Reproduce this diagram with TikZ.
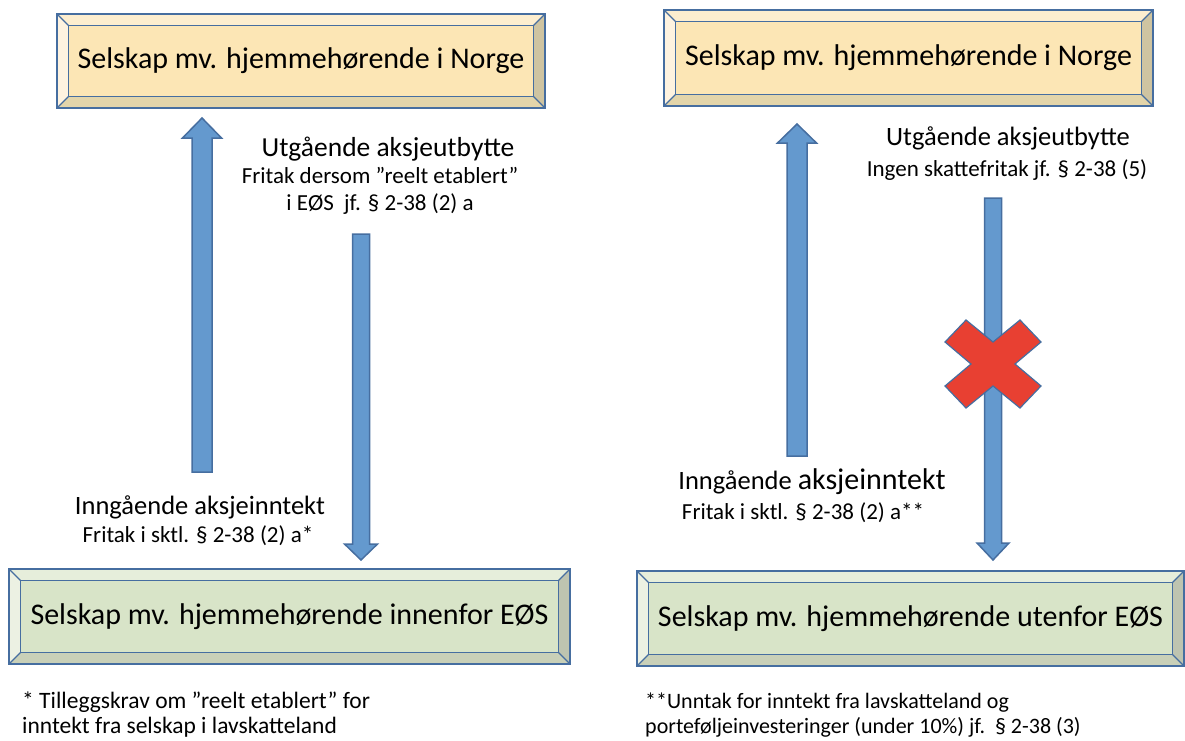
\documentclass[tikz,border=0pt]{standalone}
\usepackage{fontspec}
\setmainfont{Carlito}
\usetikzlibrary{
  calc,
  positioning,
}

\definecolor{boxline}{RGB}{70,110,160}
\definecolor{tanface}{RGB}{252,230,181}
\definecolor{tantop}{RGB}{253,238,207}
\definecolor{tanleft}{RGB}{254,243,224}
\definecolor{tanright}{RGB}{207,196,161}
\definecolor{tanbottom}{RGB}{227,213,170}
\definecolor{greenface}{RGB}{216,228,200}
\definecolor{greentop}{RGB}{230,238,219}
\definecolor{greenleft}{RGB}{236,241,227}
\definecolor{greenright}{RGB}{190,196,176}
\definecolor{greenbottom}{RGB}{201,208,184}
\definecolor{arrowfill}{RGB}{100,153,206}
\definecolor{crossred}{RGB}{232,64,50}

\tikzset{
  boxtext/.style={inner sep=0pt, font=\fontsize{30}{35}\selectfont},
  tanbox/.style={boxtext, fill=tanface},
  greenbox/.style={boxtext, fill=greenface},
  headlabel/.style={anchor=base, inner sep=0pt, font=\fontsize{26.5}{30}\selectfont},
  sublabel/.style={anchor=base, inner sep=0pt, font=\fontsize{23}{26}\selectfont},
  footnote/.style={anchor=base west, inner sep=0pt, font=\fontsize{23.5}{27}\selectfont},
  blockarrow/.style={fill=arrowfill, draw=boxline, line width=1.5pt, line join=miter},
  crossmark/.style={fill=crossred, draw=boxline, line width=1.2pt, line join=miter},
}

% bevelled frame around a box node: node, top, left, right, bottom
\newcommand{\bevelbox}[5]{%
  \fill[#2] (#1.north west) -- (#1.north east) -- ($(#1.north east)+(-12,12)$) -- ($(#1.north west)+(12,12)$) -- cycle;
  \fill[#3] (#1.north west) -- ($(#1.north west)+(12,12)$) -- ($(#1.south west)+(12,-12)$) -- (#1.south west) -- cycle;
  \fill[#4] (#1.north east) -- ($(#1.north east)+(-12,12)$) -- ($(#1.south east)+(-12,-12)$) -- (#1.south east) -- cycle;
  \fill[#5] (#1.south west) -- ($(#1.south west)+(12,-12)$) -- ($(#1.south east)+(-12,-12)$) -- (#1.south east) -- cycle;
  \draw[boxline, line width=1.8pt] (#1.north west) rectangle (#1.south east);
  \draw[boxline, line width=1.2pt] ($(#1.north west)+(12,12)$) rectangle ($(#1.south east)+(-12,-12)$);
  \draw[boxline, line width=1.2pt] (#1.north west) -- ++(12,12) (#1.north east) -- ++(-12,12)
    (#1.south west) -- ++(12,-12) (#1.south east) -- ++(-12,-12);
}

% block arrow: from, to, half shaft, half head, head length
\newcommand{\blockarrow}[5]{%
  \coordinate (hb) at ($(#2)!#5!(#1)$);
  \filldraw[blockarrow] ($(#1)!#3!90:(#2)$) -- ($(hb)!#3!90:(#2)$) -- ($(hb)!#4!90:(#2)$) -- (#2)
    -- ($(hb)!#4!-90:(#2)$) -- ($(hb)!#3!-90:(#2)$) -- ($(#1)!#3!-90:(#2)$) -- cycle;
}

\begin{document}
\begin{tikzpicture}[x=1pt, y=-1pt]
  \useasboundingbox (0,0) rectangle (1185,740);

  % boxes
  \node[tanbox, minimum width=488pt, minimum height=94pt] (norgeA) at (301,61) {Selskap mv. hjemmehørende i Norge};
  \node[tanbox, minimum width=489pt, minimum height=96pt] (norgeB) at (908.5,58) {Selskap mv. hjemmehørende i Norge};
  \node[greenbox, minimum width=561pt, minimum height=95pt] (eosIn) at (289.5,616.5) {Selskap mv. hjemmehørende innenfor EØS};
  \node[greenbox, minimum width=547pt, minimum height=95pt] (eosOut) at (910.5,618.5) {Selskap mv. hjemmehørende utenfor EØS};
  \bevelbox{norgeA}{tantop}{tanleft}{tanright}{tanbottom}
  \bevelbox{norgeB}{tantop}{tanleft}{tanright}{tanbottom}
  \bevelbox{eosIn}{greentop}{greenleft}{greenright}{greenbottom}
  \bevelbox{eosOut}{greentop}{greenleft}{greenright}{greenbottom}

  % arrows
  \coordinate (upA-s) at (202,472);
  \coordinate (upA-e) at (202,118);
  \coordinate (downA-s) at (361,234);
  \coordinate (downA-e) at (361,560);
  \coordinate (upB-s) at (797,456);
  \coordinate (upB-e) at (797,124);
  \coordinate (downB-s) at (993,198);
  \coordinate (downB-e) at (993,560);
  \blockarrow{upA-s}{upA-e}{10pt}{19.5pt}{20pt}
  \blockarrow{downA-s}{downA-e}{8.5pt}{16.5pt}{16pt}
  \blockarrow{upB-s}{upB-e}{10pt}{19.5pt}{19pt}
  \blockarrow{downB-s}{downB-e}{8.5pt}{16pt}{17pt}

  % red cross over the blocked dividend
  \coordinate (stop) at (993,364);
  \filldraw[crossmark, shift={(stop)}] (0,-22) -- (27,-44) -- (48,-22) -- (22,0) -- (48,22) -- (27,44)
    -- (0,22) -- (-27,44) -- (-48,22) -- (-22,0) -- (-48,-22) -- (-27,-44) -- cycle;

  % labels
  \node[headlabel, font=\fontsize{27.5}{31}\selectfont] (outA) at (388,156) {Utgående aksjeutbytte};
  \node[sublabel] (outA2) at (380,183) {Fritak dersom ”reelt etablert”};
  \node[sublabel] (outA3) at (380,210) {i EØS\ \ jf. § 2-38 (2) a};
  \node[headlabel] (inA) at (200,514) {Inngående aksjeinntekt};
  \node[sublabel] (inA2) at (198,542) {Fritak i sktl. § 2-38 (2) a*};
  \node[headlabel] (outB) at (1008,145) {Utgående aksjeutbytte};
  \node[sublabel] (outB2) at (1007,176) {Ingen skattefritak jf. § 2-38 (5)};
  \node[headlabel] (inB) at (812,489) {Inngående {\fontsize{30}{34}\selectfont aksjeinntekt}};
  \node[sublabel] (inB2) at (803,519) {Fritak i sktl. § 2-38 (2) a**};

  % footnotes
  \node[footnote] (noteA) at (22,708) {* Tilleggskrav om ”reelt etablert” for};
  \node[footnote] (noteA2) at (22,733) {inntekt fra selskap i lavskatteland};
  \node[footnote, font=\fontsize{22}{26}\selectfont] (noteB) at (645,708) {**Unntak for inntekt fra lavskatteland og};
  \node[footnote, font=\fontsize{22}{26}\selectfont] (noteB2) at (645,733) {porteføljeinvesteringer (under 10\%) jf.\ \ § 2-38 (3)};
\end{tikzpicture}
\end{document}
